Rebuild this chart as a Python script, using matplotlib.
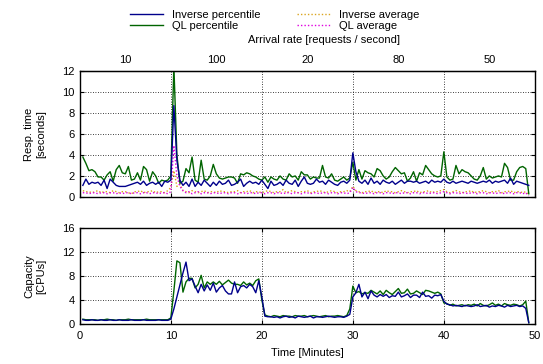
import numpy as np
import matplotlib
matplotlib.use("Agg")
import matplotlib.pyplot as plt
from matplotlib.lines import Line2D

plt.rcParams['font.family'] = ['Liberation Sans', 'DejaVu Sans']
plt.rcParams['font.size'] = 8

# Sampling every 20 seconds (in minutes)
step = 1.0 / 3.0

# Response time (seconds), 95th percentile
inverse_pct = [
    1.1, 1.7, 1.2, 1.4, 1.3, 1.4, 1.1, 1.6, 0.8, 1.7, 1.4, 1.1, 1.0, 1.0, 1.0, 1.1, 1.2, 1.3, 1.4, 1.2,
    1.5, 1.1, 1.3, 1.4, 1.2, 1.4, 1.0, 1.5, 1.4, 1.6,
    8.7, 3.5, 1.6, 1.1, 1.4, 1.0, 1.7, 1.0, 1.4, 1.1, 1.6, 1.3, 1.0, 1.4, 1.1, 1.5, 1.2, 1.3, 1.6, 1.1,
    1.2, 1.4, 1.7, 1.0, 1.3, 1.5, 1.3, 1.4, 1.2,
    1.6, 1.2, 0.8, 1.5, 1.1, 1.2, 1.4, 1.1, 1.6, 1.3, 1.2, 1.6, 1.0, 1.5, 1.9, 1.3, 1.2, 1.3, 1.7, 1.4,
    1.5, 1.2, 1.6, 1.4, 1.2, 1.1, 1.4, 1.5, 1.3, 1.6, 4.2,
    2.4, 1.5, 1.3, 1.6, 1.2, 1.8, 1.3, 1.5, 1.2, 1.6, 1.4, 1.3, 1.5, 1.2, 1.4, 1.6, 1.3, 1.5, 1.5, 1.4,
    1.5, 1.3, 1.4, 1.5, 1.3, 1.6, 1.4, 1.5, 1.4, 1.7,
    1.4, 1.3, 1.5, 1.3, 1.4, 1.5, 1.4, 1.3, 1.5, 1.4, 1.3, 1.4, 1.5, 1.4, 1.6, 1.3, 1.5, 1.4, 1.5, 1.6,
    1.3, 1.8, 1.2, 1.5, 1.4, 1.3, 1.2, 1.1,
]
ql_pct = [
    3.8, 3.2, 2.5, 2.6, 2.4, 1.9, 1.9, 1.6, 2.1, 2.4, 1.5, 2.6, 3.0, 2.3, 2.2, 2.9, 1.6, 1.7, 2.3, 1.6,
    2.9, 2.6, 1.5, 2.4, 2.0, 1.3, 1.6, 1.5, 1.6, 2.0,
    12.5, 4.0, 1.3, 1.5, 2.7, 2.3, 3.8, 1.6, 1.4, 3.5, 1.7, 1.6, 2.0, 3.1, 2.2, 1.8, 1.7, 1.8, 1.9, 1.9,
    1.8, 1.3, 2.2, 2.1, 2.3, 2.2, 2.0, 1.9, 1.7,
    1.6, 1.9, 1.4, 1.9, 1.7, 1.6, 2.0, 1.7, 1.6, 2.2, 1.9, 2.0, 1.6, 2.4, 2.1, 2.1, 1.7, 1.9, 1.8, 1.8,
    3.0, 1.9, 1.8, 2.2, 1.6, 1.5, 1.7, 1.9, 1.6, 1.8, 3.3,
    1.6, 2.6, 1.7, 2.5, 2.3, 2.2, 1.9, 2.7, 2.5, 2.0, 1.7, 1.9, 2.4, 2.8, 2.5, 2.2, 2.3, 1.5, 1.8, 2.4,
    1.5, 2.3, 2.1, 3.0, 2.6, 2.2, 2.0, 1.9, 2.0, 4.3,
    1.9, 1.6, 1.7, 3.0, 2.2, 2.6, 2.4, 2.3, 2.0, 1.7, 1.6, 2.0, 2.8, 1.7, 2.0, 1.8, 1.9, 2.0, 1.9, 3.2,
    2.8, 1.6, 1.6, 2.4, 2.8, 2.9, 2.7, 0.3,
]
# Response time (seconds), average
inverse_avg = [
    0.6, 0.5, 0.5, 0.4, 0.5, 0.6, 0.4, 0.5, 0.5, 0.4, 0.6, 0.5, 0.4, 0.5, 0.5, 0.4, 0.3, 0.5, 0.5, 0.6,
    0.4, 0.5, 0.5, 0.6, 0.4, 0.5, 0.5, 0.4, 0.6, 0.9,
    2.5, 1.0, 1.2, 0.6, 0.5, 0.4, 0.6, 0.5, 0.4, 0.5, 0.6, 0.4, 0.5, 0.5, 0.4, 0.6, 0.5, 0.5, 0.4, 0.5,
    0.5, 0.6, 0.4, 0.5, 0.5, 0.6, 0.4, 0.5, 0.5,
    0.4, 0.5, 0.6, 0.5, 0.4, 0.5, 0.5, 0.7, 0.4, 0.5, 0.6, 0.5, 0.4, 0.5, 0.5, 0.6, 0.4, 0.5, 0.5, 0.6,
    0.5, 0.4, 0.5, 0.6, 0.5, 0.4, 0.5, 0.5, 0.6, 0.5, 1.0,
    0.6, 0.5, 0.4, 0.5, 0.5, 0.6, 0.4, 0.5, 0.5, 0.4, 0.6, 0.5, 0.5, 0.4, 0.5, 0.6, 0.5, 0.4, 0.5, 0.5,
    0.6, 0.4, 0.5, 0.5, 0.6, 0.4, 0.5, 0.5, 0.6, 0.7,
    0.5, 0.4, 0.5, 0.6, 0.5, 0.4, 0.5, 0.5, 0.6, 0.4, 0.5, 0.5, 0.6, 0.5, 0.4, 0.5, 0.5, 0.6, 0.4, 0.5,
    0.5, 0.6, 0.4, 0.5, 0.5, 0.4, 0.5, 0.2,
]
ql_avg = [
    0.4, 0.4, 0.3, 0.4, 0.4, 0.3, 0.4, 0.4, 0.3, 0.4, 0.4, 0.3, 0.4, 0.3, 0.4, 0.4, 0.3, 0.4, 0.4, 0.3,
    0.4, 0.4, 0.3, 0.4, 0.4, 0.3, 0.4, 0.4, 0.3, 0.5,
    4.9, 2.0, 1.0, 0.6, 0.4, 0.5, 0.3, 0.4, 0.5, 0.3, 0.4, 0.4, 0.3, 0.4, 0.4, 0.3, 0.4, 0.4, 0.3, 0.4,
    0.4, 0.3, 0.4, 0.4, 0.3, 0.4, 0.4, 0.3, 0.4,
    0.4, 0.3, 0.4, 0.4, 0.3, 0.4, 0.4, 0.3, 0.4, 0.4, 0.3, 0.4, 0.4, 0.3, 0.4, 0.4, 0.3, 0.4, 0.4, 0.3,
    0.4, 0.4, 0.3, 0.4, 0.4, 0.3, 0.4, 0.4, 0.3, 0.4, 0.9,
    0.5, 0.4, 0.4, 0.3, 0.4, 0.4, 0.3, 0.4, 0.4, 0.3, 0.4, 0.4, 0.3, 0.4, 0.4, 0.3, 0.4, 0.4, 0.3, 0.4,
    0.4, 0.3, 0.4, 0.4, 0.3, 0.4, 0.4, 0.3, 0.4, 0.5,
    0.4, 0.3, 0.4, 0.4, 0.3, 0.4, 0.4, 0.3, 0.4, 0.4, 0.3, 0.4, 0.4, 0.3, 0.4, 0.4, 0.3, 0.4, 0.4, 0.3,
    0.4, 0.4, 0.3, 0.4, 0.4, 0.3, 0.4, 0.1,
]
# Provisioned capacity (CPUs)
inverse_cap = [
    0.7, 0.6, 0.6, 0.7, 0.6, 0.6, 0.7, 0.6, 0.6, 0.7, 0.6, 0.6, 0.7, 0.6, 0.6, 0.6, 0.7, 0.6, 0.6, 0.6,
    0.7, 0.6, 0.6, 0.6, 0.6, 0.7, 0.6, 0.6, 0.6, 0.8,
    2.5, 4.5, 6.5, 8.5, 10.3, 7.2, 7.5, 6.3, 5.2, 6.6, 5.5, 6.5, 5.6, 6.8, 5.3, 6.0, 6.4, 5.5, 5.0, 5.0,
    7.0, 5.2, 6.2, 6.4, 6.0, 6.6, 6.2, 5.2, 7.2,
    4.5, 1.3, 1.2, 1.2, 1.1, 1.2, 1.0, 1.2, 1.3, 1.1, 1.2, 1.0, 1.3, 1.2, 1.1, 1.2, 1.3, 1.0, 1.2, 1.2,
    1.1, 1.2, 1.3, 1.2, 1.1, 1.2, 1.2, 1.1, 1.3, 1.6, 4.5,
    5.2, 6.6, 4.5, 5.3, 4.2, 5.5, 4.8, 4.5, 4.9, 4.6, 4.9, 4.4, 4.7, 4.6, 5.3, 4.5, 4.7, 5.0, 4.4, 4.8,
    4.8, 4.4, 5.3, 4.6, 4.7, 4.3, 4.8, 4.7, 4.9, 3.8,
    3.3, 3.2, 3.0, 3.1, 3.0, 2.9, 3.1, 3.0, 2.9, 3.0, 3.2, 2.9, 3.0, 3.1, 2.8, 3.0, 2.9, 3.1, 3.0, 2.8,
    3.1, 2.9, 3.0, 3.1, 2.9, 3.0, 2.6, 0.2,
]
ql_cap = [
    0.8, 0.7, 0.7, 0.7, 0.7, 0.6, 0.7, 0.7, 0.8, 0.7, 0.7, 0.6, 0.7, 0.7, 0.7, 0.8, 0.7, 0.7, 0.7, 0.7,
    0.7, 0.8, 0.7, 0.7, 0.7, 0.7, 0.7, 0.7, 0.7, 1.0,
    5.5, 10.5, 10.2, 5.3, 7.0, 7.6, 7.6, 6.0, 6.6, 8.1, 6.0, 7.0, 6.6, 7.0, 6.6, 7.1, 6.5, 6.9, 7.3, 6.8,
    6.6, 6.6, 6.4, 7.0, 6.5, 6.8, 6.4, 7.2, 7.5,
    4.0, 1.5, 1.3, 1.2, 1.4, 1.3, 1.2, 1.4, 1.3, 1.3, 1.2, 1.4, 1.3, 1.3, 1.4, 1.2, 1.3, 1.4, 1.3, 1.2,
    1.3, 1.4, 1.2, 1.3, 1.3, 1.4, 1.3, 1.2, 1.4, 2.5, 6.3,
    5.2, 5.4, 5.0, 5.2, 5.1, 5.6, 5.3, 5.0, 5.5, 4.9, 5.6, 5.2, 4.9, 5.4, 5.9, 5.1, 5.2, 5.8, 5.0, 5.1,
    5.5, 5.2, 4.9, 5.6, 5.5, 5.3, 5.1, 5.3, 5.0, 3.5,
    3.4, 3.1, 3.3, 3.0, 3.1, 3.2, 3.0, 3.2, 3.1, 3.3, 3.0, 3.4, 3.1, 3.0, 3.2, 3.5, 3.1, 3.3, 3.0, 3.4,
    3.2, 3.1, 3.3, 3.2, 3.0, 3.2, 3.8, 0.2,
]

arrival_pos = [5, 15, 25, 35, 45]
arrival_labels = ["10", "100", "20", "80", "50"]

c_inv = "#00008b"
c_ql = "#006400"
c_inv_avg = "#daa520"
c_ql_avg = "#e000e0"

def times(series):
    return step * (np.arange(len(series)) + 1)

fig = plt.figure(figsize=(5.43, 3.64), dpi=100)
ax1 = fig.add_axes([0.147, 0.459, 0.838, 0.346])
ax2 = fig.add_axes([0.147, 0.110, 0.838, 0.264])

grid_kw = dict(color="black", linestyle=(0, (1, 2)), linewidth=0.6)

for ax in (ax1, ax2):
    ax.set_xlim(0, 50)
    ax.set_xticks([0, 10, 20, 30, 40, 50])
    ax.grid(True, **grid_kw)
    ax.tick_params(direction="in", length=3, width=0.8, top=True, right=True, labelsize=8)
    for s in ax.spines.values():
        s.set_linewidth(1.0)

ax1.plot(times(inverse_avg), inverse_avg, color=c_inv_avg, linestyle=(0, (1, 1.5)), linewidth=1.0)
ax1.plot(times(ql_avg), ql_avg, color=c_ql_avg, linestyle=(0, (1, 1.5)), linewidth=1.0)
ax1.plot(times(ql_pct), ql_pct, color=c_ql, linewidth=1.0)
ax1.plot(times(inverse_pct), inverse_pct, color=c_inv, linewidth=1.0)
ax1.set_ylim(0, 12)
ax1.set_yticks(range(0, 13, 2))
ax1.tick_params(labelbottom=False, top=False)
ax1.set_ylabel("Resp. time\n[seconds]", fontsize=8, labelpad=12)

sec = ax1.secondary_xaxis("top")
sec.set_xticks(arrival_pos)
sec.set_xticklabels(arrival_labels)
sec.tick_params(length=0, labelsize=8, pad=4)
sec.set_xlabel("Arrival rate [requests / second]", fontsize=8, labelpad=9)
sec.xaxis.label.set_x(0.536)

ax2.plot(times(ql_cap), ql_cap, color=c_ql, linewidth=1.0)
ax2.plot(times(inverse_cap), inverse_cap, color=c_inv, linewidth=1.0)
ax2.set_ylim(0, 16)
ax2.set_yticks([0, 4, 8, 12, 16])
ax2.tick_params(axis="x", pad=5)
ax2.set_ylabel("Capacity\n[CPUs]", fontsize=8, labelpad=12)
ax2.set_xlabel("Time [Minutes]", fontsize=8, labelpad=5)

handles = [
    Line2D([], [], color=c_inv, linewidth=1.0),
    Line2D([], [], color=c_ql, linewidth=1.0),
    Line2D([], [], color=c_inv_avg, linestyle=(0, (1, 1.5)), linewidth=1.0),
    Line2D([], [], color=c_ql_avg, linestyle=(0, (1, 1.5)), linewidth=1.0),
]
labels = ["Inverse percentile", "QL percentile", "Inverse average", "QL average"]
fig.legend(handles, labels, ncol=2, loc="upper center", bbox_to_anchor=(0.506, 1.0),
           frameon=False, fontsize=8, handlelength=3.0, columnspacing=3.25,
           labelspacing=0.1, handletextpad=0.8)

fig.savefig("out.png", dpi=100)
